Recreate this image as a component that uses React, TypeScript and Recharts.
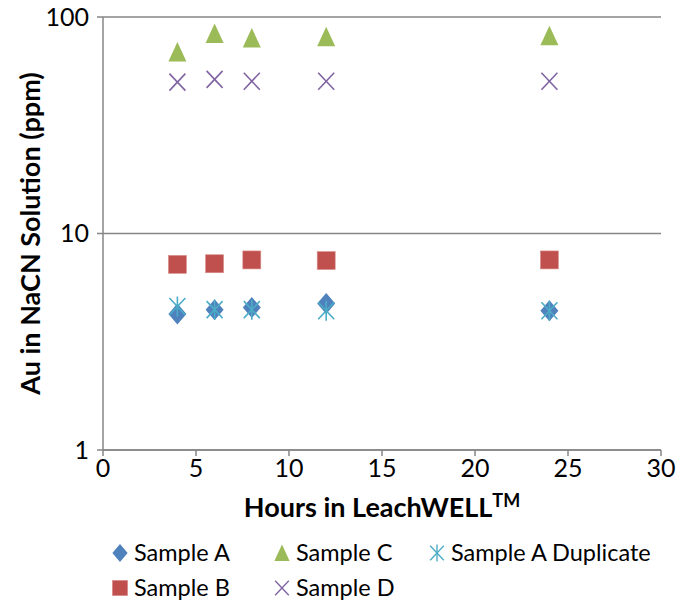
import React from "react";
import {
  CartesianGrid,
  Legend,
  Scatter,
  ScatterChart,
  XAxis,
  YAxis,
} from "recharts";

const HOURS = [4, 6, 8, 12, 24];
const SAMPLE_A = [4.25, 4.45, 4.55, 4.75, 4.4];
const SAMPLE_B = [7.2, 7.25, 7.55, 7.5, 7.55];
const SAMPLE_C = [69, 84, 80, 81, 82];
const SAMPLE_D = [50, 51.5, 50.5, 50.5, 50.5];
const SAMPLE_A_DUP = [4.6, 4.45, 4.45, 4.4, 4.4];

const X_TICKS = [0, 5, 10, 15, 20, 25, 30];
const Y_TICKS = [1, 10, 100];

const FONT = "Lato, 'Open Sans', sans-serif";
const AXIS_COLOR = "#868686";

const toPoints = (vals: number[]) =>
  HOURS.map((h, i) => ({ x: h, y: vals[i] }));

type Shape = "diamond" | "square" | "triangle" | "cross" | "star";

function Marker({ kind, cx, cy, color }: { kind: Shape; cx: number; cy: number; color: string }) {
  const r = 9;
  switch (kind) {
    case "diamond":
      return (
        <polygon
          points={`${cx},${cy - 10.5} ${cx + 9},${cy} ${cx},${cy + 10.5} ${cx - 9},${cy}`}
          fill={color}
        />
      );
    case "square":
      return <rect x={cx - r} y={cy - r} width={2 * r} height={2 * r} fill={color} stroke="#d9908e" strokeWidth={0.6} />;
    case "triangle":
      return (
        <polygon
          points={`${cx},${cy - 10} ${cx + 9},${cy + 9.5} ${cx - 9},${cy + 9.5}`}
          fill={color}
        />
      );
    case "cross":
      return (
        <g stroke={color} strokeWidth={1.6}>
          <line x1={cx - 8} y1={cy - 8.5} x2={cx + 8} y2={cy + 8.5} />
          <line x1={cx - 8} y1={cy + 8.5} x2={cx + 8} y2={cy - 8.5} />
        </g>
      );
    case "star":
      return (
        <g stroke={color} strokeWidth={1.6}>
          <line x1={cx - 8} y1={cy - 8.5} x2={cx + 8} y2={cy + 8.5} />
          <line x1={cx - 8} y1={cy + 8.5} x2={cx + 8} y2={cy - 8.5} />
          <line x1={cx} y1={cy - 10} x2={cx} y2={cy + 10} />
        </g>
      );
  }
}

const SERIES: { name: string; data: number[]; color: string; kind: Shape }[] = [
  { name: "Sample A", data: SAMPLE_A, color: "#4F81BD", kind: "diamond" },
  { name: "Sample B", data: SAMPLE_B, color: "#C0504D", kind: "square" },
  { name: "Sample C", data: SAMPLE_C, color: "#9BBB59", kind: "triangle" },
  { name: "Sample D", data: SAMPLE_D, color: "#8064A2", kind: "cross" },
  { name: "Sample A Duplicate", data: SAMPLE_A_DUP, color: "#4BACC6", kind: "star" },
];

// legend is laid out column-first in two rows, like the Excel original
function LegendBox() {
  const colX = [112, 274, 429];
  const rowY = [553, 588];
  return (
    <svg width={691} height={603} style={{ position: "absolute", left: 0, top: 0 }}>
      {SERIES.map((s, i) => {
        const col = Math.floor(i / 2);
        const row = i % 2;
        const x = colX[col];
        const y = rowY[row];
        return (
          <g key={s.name}>
            <g transform={`translate(${x + 8},${y}) scale(0.85) translate(${-(x + 8)},${-y})`}>
              <Marker kind={s.kind} cx={x + 8} cy={y} color={s.color} />
            </g>
            <text x={x + 22} y={y} dy="0.35em" fontSize={23.5} fontFamily={FONT} fill="#000">
              {s.name}
            </text>
          </g>
        );
      })}
    </svg>
  );
}

function XTitle({ viewBox }: any) {
  const cx = viewBox.x + viewBox.width / 2;
  return (
    <text x={cx} y={517} textAnchor="middle" fontSize={27} fontWeight="bold" fontFamily={FONT} fill="#000">
      Hours in LeachWELL
      <tspan fontSize={18} dy={-10}>TM</tspan>
    </text>
  );
}

export default function App() {
  return (
    <div style={{ position: "absolute", left: 0, top: 0, width: 691, height: 603, background: "#fff" }}>
      <ScatterChart
        width={691}
        height={603}
        margin={{ top: 17, right: 30, left: 0, bottom: 0 }}
        style={{ fontFamily: FONT }}
      >
        <CartesianGrid vertical={false} stroke={AXIS_COLOR} strokeWidth={1.5} />
        <XAxis
          type="number"
          dataKey="x"
          domain={[0, 30]}
          ticks={X_TICKS}
          height={153}
          stroke={AXIS_COLOR}
          strokeWidth={1.5}
          tickSize={6}
          tick={{ fill: "#000", fontSize: 25, fontFamily: FONT }}
          tickMargin={3}
          label={<XTitle />}
        />
        <YAxis
          type="number"
          dataKey="y"
          scale="log"
          domain={[1, 100]}
          ticks={Y_TICKS}
          allowDataOverflow
          width={103}
          stroke={AXIS_COLOR}
          strokeWidth={1.5}
          tickSize={6}
          tickMargin={8}
          tick={{ fill: "#000", fontSize: 25, fontFamily: FONT }}
          label={{
            value: "Au in NaCN Solution (ppm)",
            angle: -90,
            position: "insideLeft",
            offset: 0,
            style: { textAnchor: "middle", fontSize: 27, fontWeight: "bold", fill: "#000", fontFamily: FONT },
            dx: 30,
          }}
        />
        {SERIES.map((s) => (
          <Scatter
            key={s.name}
            name={s.name}
            data={toPoints(s.data)}
            isAnimationActive={false}
            shape={(p: any) => <Marker kind={s.kind} cx={p.cx} cy={p.cy} color={s.color} />}
          />
        ))}
        <Legend
          layout="horizontal"
          verticalAlign="middle"
          align="center"
          wrapperStyle={{ left: 0, top: 0, width: 691, height: 603, pointerEvents: "none" }}
          content={() => <LegendBox />}
        />
      </ScatterChart>
    </div>
  );
}
